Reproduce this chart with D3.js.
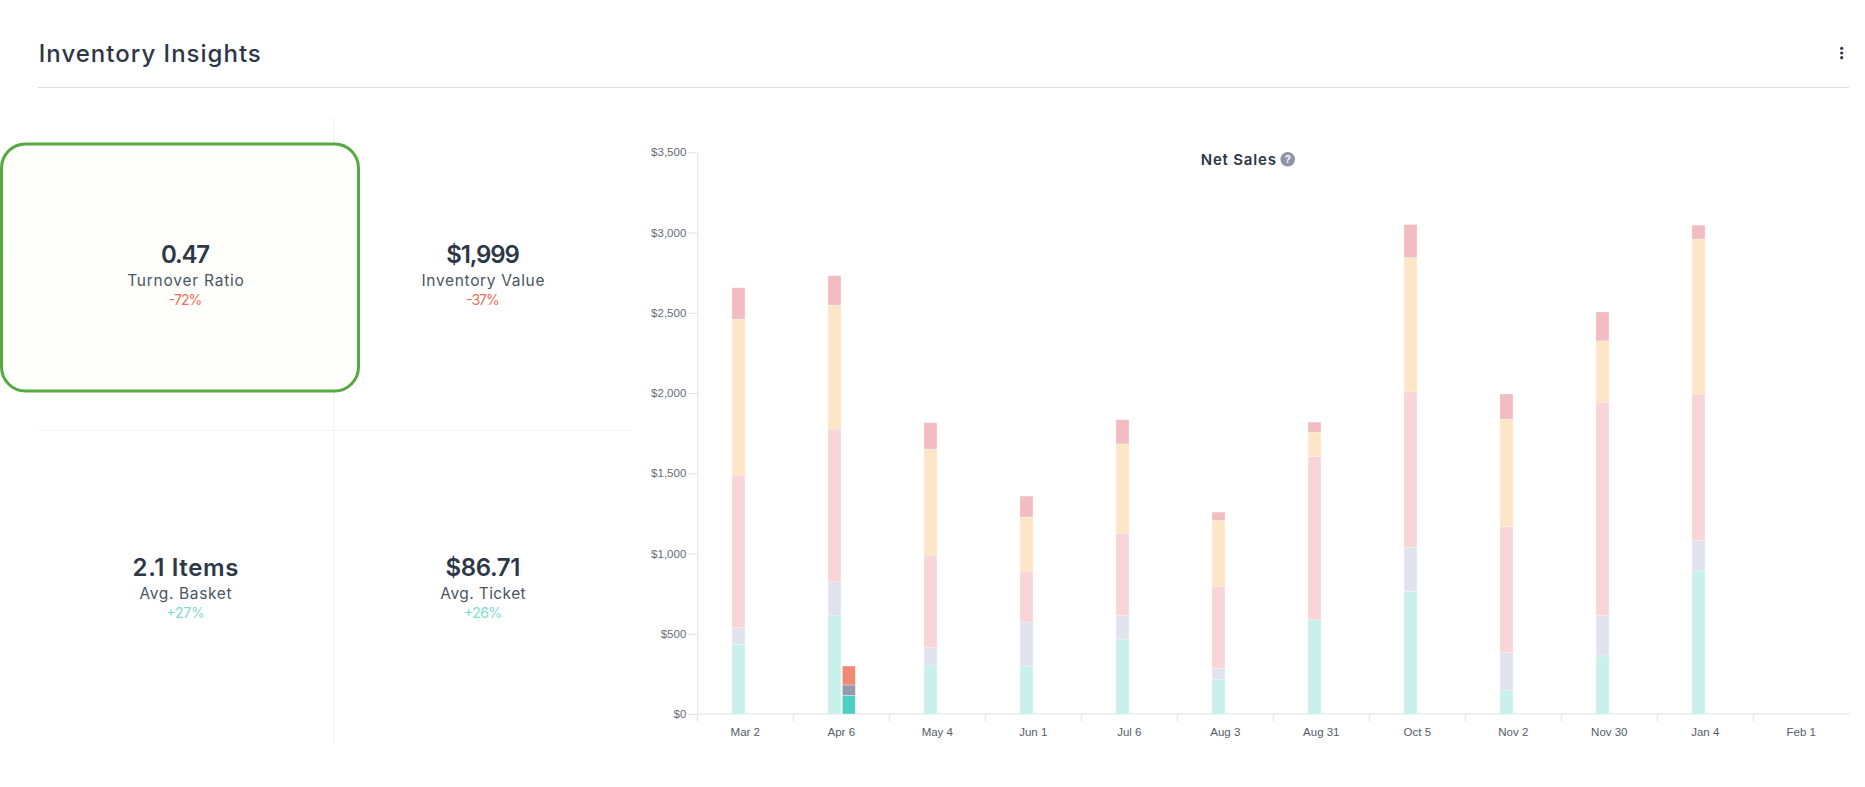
<!DOCTYPE html>
<html>
<head>
<meta charset="utf-8">
<script src="https://cdn.jsdelivr.net/npm/d3@7"></script>
<style>
  html, body { margin: 0; padding: 0; background: #ffffff; }
  svg { display: block; }
</style>
</head>
<body>
<svg id="chart" width="1865" height="787"></svg>
<script>
// ---------- DATA ----------
const categories = ["Mar 2","Apr 6","May 4","Jun 1","Jul 6","Aug 3","Aug 31","Oct 5","Nov 2","Nov 30","Jan 4","Feb 1"];
// main (previous period) stacked series, bottom to top
const seriesTeal     = [434, 612, 305, 299, 467, 214, 587, 763, 145, 362, 892, 0];
const seriesLavender = [104, 212, 108, 274, 146,  71,   0, 277, 238, 251, 188, 0];
const seriesPink     = [951, 952, 577, 318, 510, 512,1017, 967, 783,1330, 914, 0];
const seriesPeach    = [972, 772, 661, 336, 560, 410, 152, 837, 672, 382, 966, 0];
const seriesRose     = [195, 183, 164, 131, 151,  51,  63, 206, 156, 180,  86, 0];
// current period stacked series
const currentTeal    = [0, 116, 0, 0, 0, 0, 0, 0, 0, 0, 0, 0];
const currentGrey    = [0,  65, 0, 0, 0, 0, 0, 0, 0, 0, 0, 0];
const currentSalmon  = [0, 118, 0, 0, 0, 0, 0, 0, 0, 0, 0, 0];
const yTicks = [0, 500, 1000, 1500, 2000, 2500, 3000, 3500];

const kpiValues  = ["0.47", "$1,999", "2.1 Items", "$86.71"];
const kpiLabels  = ["Turnover Ratio", "Inventory Value", "Avg. Basket", "Avg. Ticket"];
const kpiChanges = ["-72%", "-37%", "+27%", "+26%"];

// ---------- STYLE ----------
const mainKeys = ["teal","lavender","pink","peach","rose"];
const mainColors = {teal:"#c9f1eb", lavender:"#e0e3ee", pink:"#fad5d7", peach:"#fde6c6", rose:"#f1bdc1"};
const curKeys = ["teal","grey","salmon"];
const curColors = {teal:"#4ecfc0", grey:"#959aad", salmon:"#ef8a73"};
const headFont = "Inter, 'Open Sans', sans-serif";
const axisFont = "'Liberation Sans', Arial, sans-serif";
// measured text widths (px) to mimic the wide geometric face of the original
const valueW  = [49, 73.7, 105.8, 75];
const labelW  = [116.6, 123, 92, 85.3];
const changeW = [33.7, 33.5, 38.4, 38];

const svg = d3.select("#chart");

// ---------- HEADER ----------
svg.append("text").attr("x", 38.8).attr("y", 62.3)
  .attr("font-family", headFont).attr("font-size", 24).attr("font-weight", 500)
  .attr("fill", "#2d3748").attr("textLength", 222).attr("lengthAdjust", "spacing")
  .text("Inventory Insights");
svg.append("line").attr("x1", 38).attr("x2", 1849).attr("y1", 87.5).attr("y2", 87.5)
  .attr("stroke", "#dddddd").attr("stroke-width", 1);
[48.3, 53, 57.7].forEach(cy => svg.append("circle").attr("cx", 1841.7).attr("cy", cy).attr("r", 1.6).attr("fill", "#2d3748"));

// ---------- KPI PANEL ----------
svg.append("line").attr("x1", 334).attr("x2", 334).attr("y1", 117).attr("y2", 744)
  .attr("stroke", "#f1f2f4").attr("stroke-width", 1);
svg.append("line").attr("x1", 38).attr("x2", 632).attr("y1", 430.5).attr("y2", 430.5)
  .attr("stroke", "#f1f2f4").attr("stroke-width", 1);
svg.append("rect").attr("x", 1.5).attr("y", 144).attr("width", 357).attr("height", 247)
  .attr("rx", 24).attr("fill", "#fefefb").attr("stroke", "#56a840").attr("stroke-width", 3);

const colX = [185.5, 483];
const rowY = [263.3, 576];
kpiValues.forEach((v, i) => {
  const cx = colX[i % 2], by = rowY[Math.floor(i / 2)];
  const up = kpiChanges[i].startsWith("+");
  const g = svg.append("g").attr("text-anchor", "middle").attr("font-family", headFont);
  g.append("text").attr("x", cx).attr("y", by).attr("font-size", 24).attr("font-weight", 600)
    .attr("fill", "#2d3748").attr("textLength", valueW[i]).attr("lengthAdjust", "spacing").text(v);
  g.append("text").attr("x", cx).attr("y", by + 22.5).attr("font-size", 15.5).attr("font-weight", 400)
    .attr("fill", "#4a5563").attr("textLength", labelW[i]).attr("lengthAdjust", "spacing").text(kpiLabels[i]);
  g.append("text").attr("x", cx).attr("y", by + 41.5).attr("font-size", 14).attr("font-weight", 400)
    .attr("fill", up ? "#7ddccf" : "#f26c5b").attr("textLength", changeW[i]).attr("lengthAdjust", "spacing")
    .text(kpiChanges[i]);
});

// ---------- CHART ----------
const plotLeft = 697.3, plotRight = 1849.3, plotTop = 152.3, plotBottom = 714;
const x = d3.scaleBand().domain(categories).range([plotLeft, plotRight]).paddingInner(0).paddingOuter(0);
const y = d3.scaleLinear().domain([0, 3500]).range([plotBottom, plotTop]);
const barW = 13;

// Title
svg.append("text").attr("x", 1200.7).attr("y", 164.7)
  .attr("font-family", headFont).attr("font-size", 15).attr("font-weight", 600)
  .attr("fill", "#2d3748").attr("textLength", 75.3).attr("lengthAdjust", "spacing").text("Net Sales");
svg.append("circle").attr("cx", 1287.7).attr("cy", 159.3).attr("r", 7.3).attr("fill", "#8e94a8");
svg.append("text").attr("x", 1287.7).attr("y", 163.3).attr("text-anchor", "middle")
  .attr("font-family", axisFont).attr("font-size", 10.5).attr("font-weight", 700)
  .attr("fill", "#ffffff").text("?");

// Y axis
const yAxis = d3.axisLeft(y).tickValues(yTicks).tickFormat(d3.format("$,")).tickSize(9).tickSizeOuter(0).tickPadding(2);
const yg = svg.append("g").attr("transform", `translate(${plotLeft},0)`).call(yAxis);
yg.select(".domain").attr("stroke", "#dfe0ec");
yg.selectAll(".tick line").attr("stroke", "#dfe0ec");
yg.selectAll(".tick text").attr("font-family", axisFont).attr("font-size", 11.5).attr("fill", "#666b78");

// X axis
svg.append("line").attr("x1", plotLeft).attr("x2", plotRight).attr("y1", plotBottom).attr("y2", plotBottom)
  .attr("stroke", "#dfe0ec");
svg.append("g").selectAll("line").data(categories).join("line")
  .attr("x1", d => x(d)).attr("x2", d => x(d))
  .attr("y1", plotBottom).attr("y2", plotBottom + 8)
  .attr("stroke", "#dfe0ec");
svg.append("g").selectAll("text").data(categories).join("text")
  .attr("x", d => x(d) + x.bandwidth() / 2).attr("y", 736)
  .attr("text-anchor", "middle").attr("font-family", axisFont).attr("font-size", 11.5)
  .attr("fill", "#555b68").text(d => d);

// Main stacks
const mainRows = categories.map((c, i) => ({
  cat: c, teal: seriesTeal[i], lavender: seriesLavender[i], pink: seriesPink[i], peach: seriesPeach[i], rose: seriesRose[i]
}));
const mainStack = d3.stack().keys(mainKeys)(mainRows);
svg.append("g").selectAll("g").data(mainStack).join("g")
  .attr("fill", d => mainColors[d.key])
  .selectAll("rect").data(d => d.filter(s => s[1] - s[0] > 0)).join("rect")
  .attr("x", d => x(d.data.cat) + x.bandwidth() / 2 - barW - 0.3)
  .attr("width", barW)
  .attr("y", d => y(d[1]))
  .attr("height", d => y(d[0]) - y(d[1]))
  .attr("stroke", "#ffffff").attr("stroke-opacity", 0.5).attr("stroke-width", 0.5);

// Current stacks
const curRows = categories.map((c, i) => ({cat: c, teal: currentTeal[i], grey: currentGrey[i], salmon: currentSalmon[i]}));
const curStack = d3.stack().keys(curKeys)(curRows);
svg.append("g").selectAll("g").data(curStack).join("g")
  .attr("fill", d => curColors[d.key])
  .selectAll("rect").data(d => d.filter(s => s[1] - s[0] > 0)).join("rect")
  .attr("x", d => x(d.data.cat) + x.bandwidth() / 2 + 1)
  .attr("width", barW)
  .attr("y", d => y(d[1]))
  .attr("height", d => y(d[0]) - y(d[1]))
  .attr("stroke", "#ffffff").attr("stroke-opacity", 0.6).attr("stroke-width", 0.5);
</script>
</body>
</html>
